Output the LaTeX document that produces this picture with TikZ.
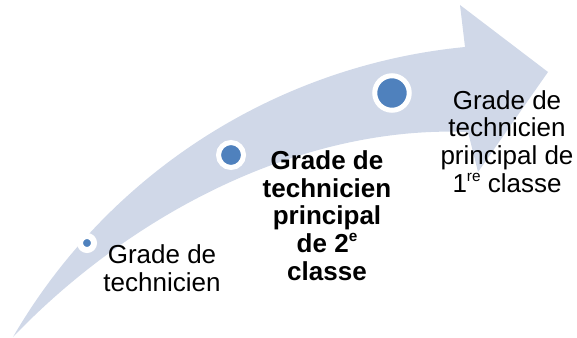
\documentclass[tikz,border=0pt]{standalone}
\usepackage{fontspec}
\setmainfont{Liberation Sans}
\usepackage{xcolor}
\definecolor{arrowfill}{HTML}{D0D8E8}
\definecolor{dotblue}{HTML}{4F81BD}
\newcommand{\gradesup}[1]{\raisebox{0.42em}{\fontsize{11.5}{11.5}\selectfont #1}}

\begin{document}
\begin{tikzpicture}[x=0.75pt,y=-0.75pt,
		dot/.style={draw=white,circle,fill=dotblue,inner sep=0pt},
		grade/.style={align=center,inner sep=0pt,font=\fontsize{19.5}{20.8}\selectfont}]
			\useasboundingbox (0,0) rectangle (577,338);
			% curved arrow
			\fill[arrowfill] (13,337) .. controls (110,170) and (280,65) .. (465,47) -- (460,5) -- (548,72) -- (478,172) -- (468,132) .. controls (300,125) and (130,215) .. (13,337) -- cycle;
			% steps
			\node[dot,line width=4.5pt,minimum size=10.5pt] (d1)at(87,243) {};
			\node[dot,line width=3.75pt,minimum size=18.75pt] (d2)at(231,155) {};
			\node[dot,line width=3.75pt,minimum size=25.875pt] (d3)at(392,93) {};
			\node[grade] (g1)at(162,268.5) {Grade de\\technicien};
			\node[grade,font=\fontsize{19.5}{20.8}\selectfont\bfseries] (g2)at(327,215.5) {Grade de\\technicien\\principal\\de 2\gradesup{e}\\classe};
			\node[grade] (g3)at(507,141.5) {Grade de\\technicien\\principal de\\1\gradesup{re} classe};
			\end{tikzpicture}
\end{document}
